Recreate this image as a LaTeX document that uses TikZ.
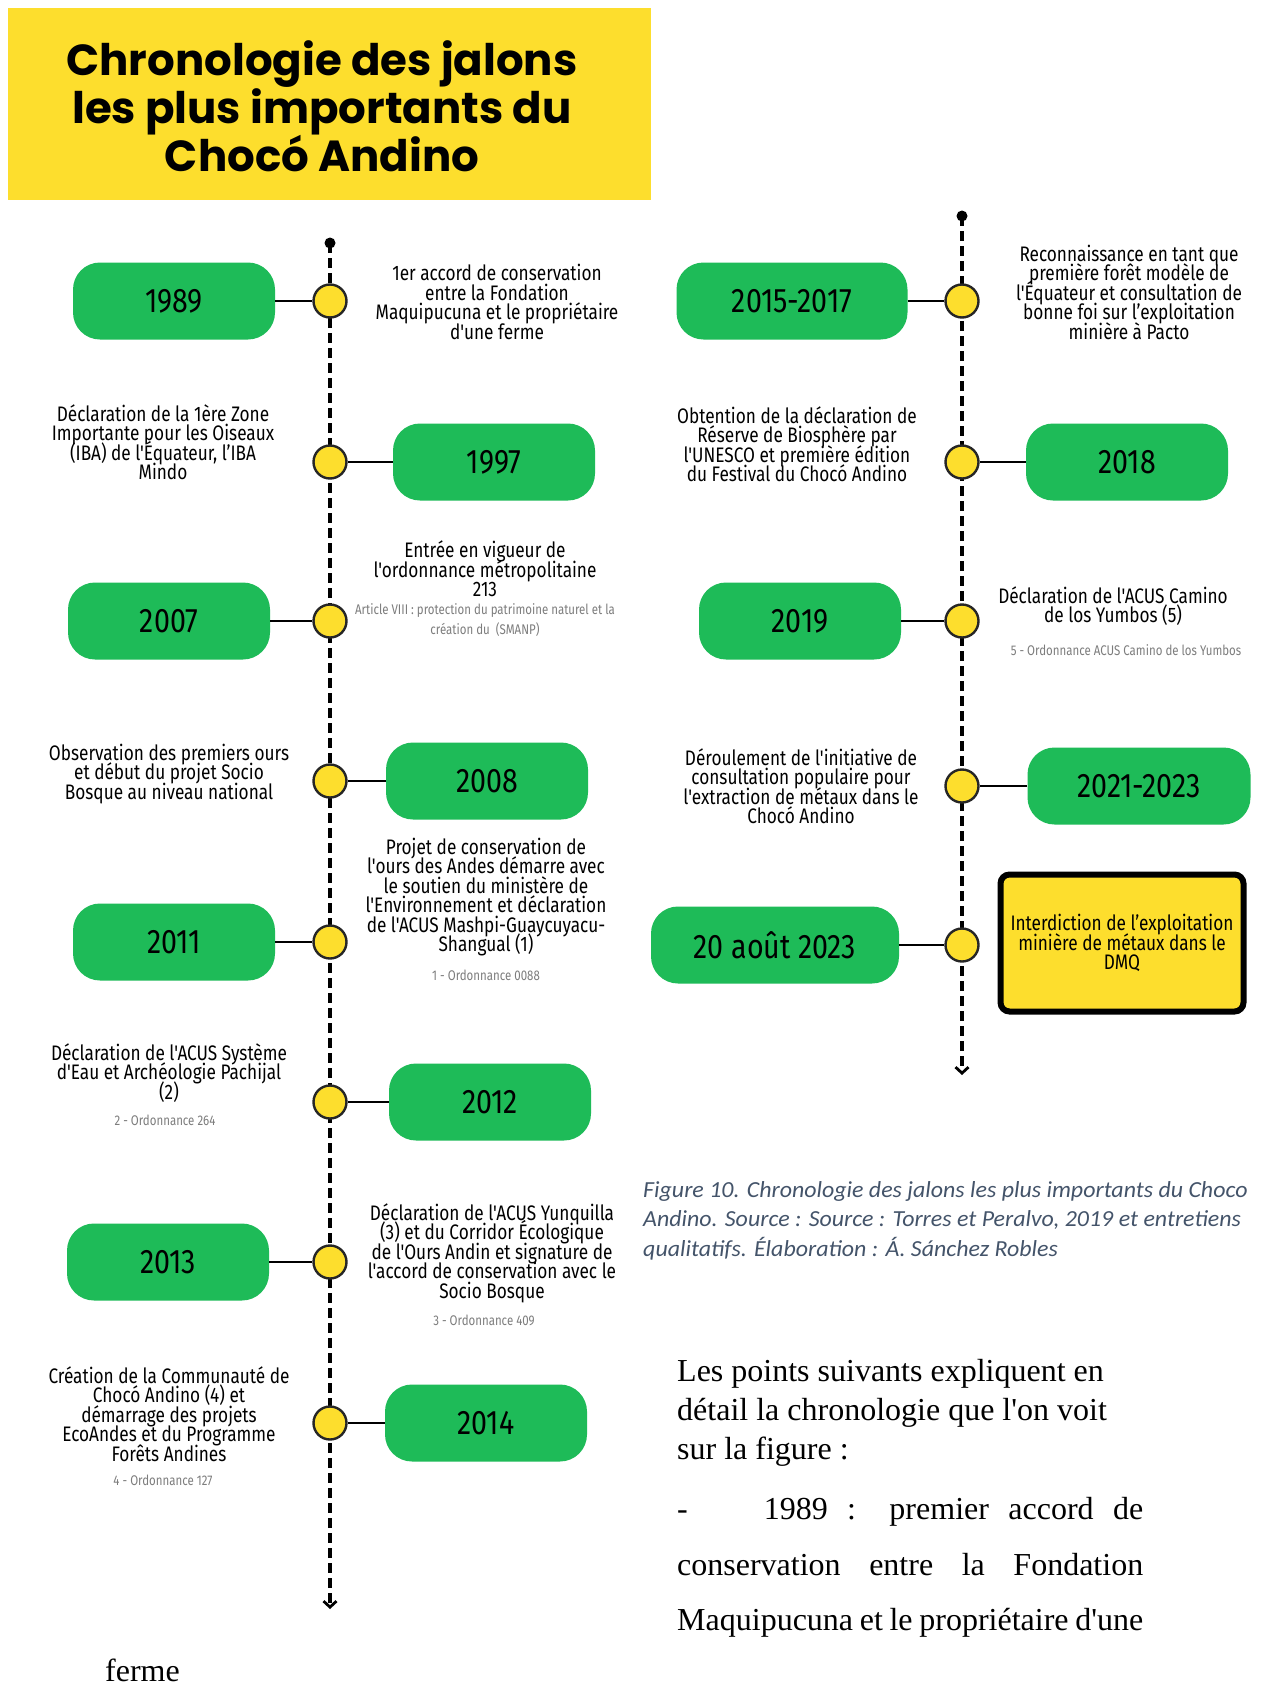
\documentclass[tikz,border=0pt]{standalone}
\usepackage{fontspec}
\setmainfont{Liberation Serif}[Ligatures=TeXOff]
\newfontfamily\hand{Fira Sans}[FakeStretch=0.82,Ligatures=TeXOff]
\newfontfamily\yearfont{Fira Sans}[FakeStretch=0.84,Ligatures=TeXOff]
\newfontfamily\titlefont{Poppins}
\newfontfamily\capfont{Carlito}[FakeStretch=1.04]
\usetikzlibrary{arrows.meta}
\lineskiplimit=-100pt
\definecolor{tgreen}{RGB}{30,187,88}
\definecolor{tyellow}{RGB}{253,222,45}
\definecolor{capblue}{RGB}{68,84,106}
\definecolor{notegrey}{RGB}{125,125,125}
\tikzset{
  year/.style={fill=tgreen, rounded corners=27pt, minimum width=202pt, minimum height=77pt,
    font=\yearfont\fontsize{34}{34}\selectfont, inner sep=0pt},
  dot/.style={circle, fill=tyellow, draw=black!85, line width=2.4pt, minimum size=33pt, inner sep=0pt},
  topdot/.style={circle, fill=black, minimum size=11pt, inner sep=0pt},
  link/.style={line width=2.8pt},
  tl/.style={line width=3.2pt, dash pattern=on 10pt off 5pt, -{Straight Barb[length=6pt,width=13pt,line width=2.8pt]}},
  ev/.style={font=\hand\fontsize{21}{19.5}\selectfont, align=center, inner sep=0pt},
  note/.style={font=\hand\fontsize{14}{20}\selectfont, text=notegrey, align=center, inner sep=0pt},
  body/.style={font=\fontsize{32}{38}\selectfont, anchor=base west, inner sep=0pt},
}
\begin{document}
\begin{tikzpicture}[x=1pt,y=-1pt]
\useasboundingbox[fill=white] (0,0) rectangle (1262,1686);
% title
\fill[tyellow] (8,8) rectangle (651,200);
\node[font=\titlefont\bfseries\fontsize{43.5}{48}\selectfont, align=center, inner sep=0pt] (title) at (322,106)
  {Chronologie des jalons\\les plus importants du\\Chocó Andino};

% ---------- left timeline ----------
\node[topdot] (Ltop) at (330,243) {};
\coordinate (Lend) at (330,1609);
\draw[tl] (Ltop.center) -- (Lend);

\node[dot] (c1) at (330,301) {};
\node[dot] (c2) at (330,462) {};
\node[dot] (c3) at (330,621) {};
\node[dot] (c4) at (330,781) {};
\node[dot] (c5) at (330,942) {};
\node[dot] (c6) at (330,1102) {};
\node[dot] (c7) at (330,1262) {};
\node[dot] (c8) at (330,1423) {};

\node[year] (y1) at (174,301) {1989};
\node[year] (y2) at (494,462) {1997};
\node[year] (y3) at (169,621) {2007};
\node[year] (y4) at (487,781) {2008};
\node[year] (y5) at (174,942) {2011};
\node[year] (y6) at (490,1102) {2012};
\node[year] (y7) at (168,1262) {2013};
\node[year] (y8) at (486,1423) {2014};

\foreach \i in {1,...,8} {\draw[link] (y\i) -- (c\i);}

\node[ev] (e1) at (497,302) {1er accord de conservation\\entre la Fondation\\Maquipucuna et le propriétaire\\d'une ferme};
\node[ev] (e2) at (163,442) {Déclaration de la 1ère Zone\\Importante pour les Oiseaux\\(IBA) de l'Équateur, l’IBA\\Mindo};
\node[ev] (e3) at (485,569) {Entrée en vigueur de\\l'ordonnance métropolitaine\\213};
\node[note] (n3) at (485,620) {Article VIII : protection du patrimoine naturel et la\\création du \ (SMANP)};
\node[ev] (e4) at (169,774) {Observation des premiers ours\\et début du projet Socio\\Bosque au niveau national};
\node[ev] (e5) at (486,897) {Projet de conservation de\\l'ours des Andes démarre avec\\le soutien du ministère de\\l'Environnement et déclaration\\de l'ACUS Mashpi-Guaycuyacu-\\Shangual (1)};
\node[note] (n5) at (486,975) {1 - Ordonnance 0088};
\node[ev] (e6) at (169,1073) {Déclaration de l'ACUS Système\\d'Eau et Archéologie Pachijal\\(2)};
\node[note] (n6) at (165,1120) {2 - Ordonnance 264};
\node[ev] (e7) at (492,1253) {Déclaration de l'ACUS Yunquilla\\(3) et du Corridor Écologique\\de l'Ours Andin et signature de\\l'accord de conservation avec le\\Socio Bosque};
\node[note] (n7) at (484,1320) {3 - Ordonnance 409};
\node[ev] (e8) at (169,1414) {Création de la Communauté de\\Chocó Andino (4) et\\démarrage des projets\\EcoAndes et du Programme\\Forêts Andines};
\node[note] (n8) at (163,1480) {4 - Ordonnance 127};

% ---------- right timeline ----------
\node[topdot] (Rtop) at (962,216) {};
\coordinate (Rend) at (962,1075);
\draw[tl] (Rtop.center) -- (Rend);

\node[dot] (d1) at (962,301) {};
\node[dot] (d2) at (962,462) {};
\node[dot] (d3) at (962,621) {};
\node[dot] (d4) at (962,786) {};
\node[dot] (d5) at (962,945) {};

\node[year, minimum width=231pt] (z1) at (792,301) {2015-2017};
\node[year] (z2) at (1127,462) {2018};
\node[year] (z3) at (800,621) {2019};
\node[year, minimum width=223pt] (z4) at (1139,786) {2021-2023};
\node[year, minimum width=248pt] (z5) at (775,945) {20 août 2023};

\foreach \i in {1,...,5} {\draw[link] (z\i) -- (d\i);}

\node[ev] (f1) at (1129,292) {Reconnaissance en tant que\\première forêt modèle de\\l'Équateur et consultation de\\bonne foi sur l’exploitation\\minière à Pacto};
\node[ev] (f2) at (797,444) {Obtention de la déclaration de\\Réserve de Biosphère par\\l'UNESCO et première édition\\du Festival du Chocó Andino};
\node[ev] (f3) at (1113,606) {Déclaration de l'ACUS Camino\\de los Yumbos (5)};
\node[note] (m3) at (1126,650) {5 - Ordonnance ACUS Camino de los Yumbos};
\node[ev] (f4) at (801,786) {Déroulement de l'initiative de\\consultation populaire pour\\l'extraction de métaux dans le\\Chocó Andino};
\node[ev, draw=black, line width=6pt, fill=tyellow, rounded corners=9pt, minimum width=243pt, minimum height=137pt] (f5) at (1122,943)
  {Interdiction de l’exploitation\\minière de métaux dans le\\DMQ};

% ---------- caption ----------
\node[font=\capfont\itshape\fontsize{23}{29.6}\selectfont, text=capblue, align=left, anchor=north west, inner sep=0pt] (cap) at (643,1181)
  {Figure 10. Chronologie des jalons les plus importants du Choco\\Andino. Source : Source : Torres et Peralvo, 2019 et entretiens\\qualitatifs. Élaboration : Á. Sánchez Robles};

% ---------- body text ----------
\node[body] (b1) at (677,1381) {Les points suivants expliquent en};
\node[body] (b2) at (677,1420) {détail la chronologie que l'on voit};
\node[body] (b3) at (677,1459) {sur la figure :};
\node[body] (b4) at (677,1519) {\makebox[466pt][s]{-\hspace{76pt}1989 : premier accord de}};
\node[body] (b5) at (677,1575) {\makebox[466pt][s]{conservation entre la Fondation}};
\node[body] (b6) at (677,1630) {\makebox[466pt][s]{Maquipucuna et le propriétaire d'une}};
\node[body] (b7) at (105,1681) {ferme};
\end{tikzpicture}
\end{document}
